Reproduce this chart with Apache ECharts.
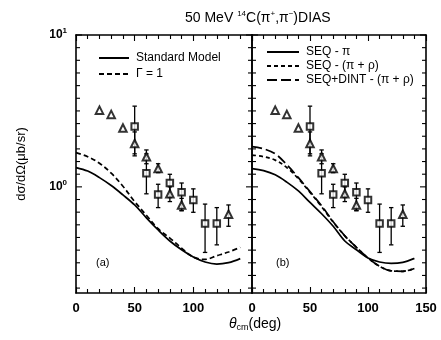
<!DOCTYPE html>
<html><head><meta charset="utf-8">
<script src="https://cdn.jsdelivr.net/npm/echarts@6/dist/echarts.min.js"></script>
<style>html,body{margin:0;padding:0;background:#fff}#c{width:441px;height:340px}</style>
</head><body><div id="c"></div>
<script>
// ---- data ----
const curveAngles = [0,10,20,30,40,50,60,70,80,90,100,110,120,130,140];
const standardModel = [1.34,1.27,1.15,1.02,0.885,0.76,0.625,0.52,0.44,0.385,0.345,0.32,0.31,0.317,0.337];
const gammaOne      = [1.68,1.58,1.43,1.23,1.01,0.80,0.65,0.53,0.46,0.395,0.345,0.333,0.352,0.372,0.40];
const seqPi         = [1.32,1.28,1.20,1.075,0.94,0.79,0.665,0.55,0.44,0.385,0.34,0.32,0.313,0.318,0.338];
const seqPiRho      = [1.62,1.58,1.50,1.34,1.13,0.92,0.74,0.585,0.476,0.40,0.34,0.30,0.28,0.278,0.29];
const seqDintPiRho  = [1.84,1.78,1.65,1.40,1.15,0.93,0.75,0.59,0.476,0.40,0.34,0.30,0.28,0.278,0.29];

const squareAngles = [50,60,70,80,90,100,110,120];
const squareValues = [2.5,1.23,0.89,1.06,0.92,0.82,0.573,0.573];
const squareLow    = [1.6,0.9,0.73,0.85,0.695,0.68,0.37,0.415];
const squareHigh   = [3.4,1.65,1.04,1.21,1.06,0.97,0.77,0.73];

const triAngles = [20,30,40,50,60,70,80,90,130];
const triValues = [3.2,3.0,2.44,1.93,1.58,1.32,0.90,0.76,0.66];
const triLow    = [null,null,null,1.65,1.42,1.24,0.80,0.70,0.55];
const triHigh   = [null,null,null,2.3,1.75,1.42,1.0,0.84,0.76];

const xTickLabelsA = ['0','50','100'];
const xTickLabelsB = ['0','50','100','150'];
const yTickExponents = [-8,-7,-6,-5,-4,-3,-2,-1,0,1,2,3,4,5,6,7,8,9,10,11,12]; // in twelfths of a decade

// ---- helpers ----
const zip = (xs, ys) => xs.map((x, i) => [x, ys[i]]);
const errData = (xs, lo, hi) => xs.map((x, i) => [x, lo[i], hi[i]]).filter(d => d[1] != null);
const yTicks = yTickExponents.map(k => [0, Math.pow(10, k / 12), k % 12 === 0 ? 1 : 0]);
const FONT = 'Liberation Sans';

function errRender(params, api) {
  const x = api.value(0), lo = api.value(1), hi = api.value(2);
  const t = api.coord([x, hi]), b = api.coord([x, lo]);
  const w = 2.2, st = {stroke: '#000', lineWidth: 1.3};
  return {type: 'group', children: [
    {type: 'line', shape: {x1: t[0], y1: t[1], x2: b[0], y2: b[1]}, style: st},
    {type: 'line', shape: {x1: t[0]-w, y1: t[1], x2: t[0]+w, y2: t[1]}, style: st},
    {type: 'line', shape: {x1: b[0]-w, y1: b[1], x2: b[0]+w, y2: b[1]}, style: st}
  ]};
}
function tickRender(params, api) {
  const v = api.value(1), major = api.value(2);
  const l = api.coord([0, v]), r = api.coord([150, v]);
  const len = major ? 6 : 4, st = {stroke: '#000', lineWidth: 1.1};
  return {type: 'group', children: [
    {type: 'line', shape: {x1: l[0], y1: l[1], x2: l[0]+len, y2: l[1]}, style: st},
    {type: 'line', shape: {x1: r[0], y1: r[1], x2: r[0]-len, y2: r[1]}, style: st}
  ]};
}

const grids = [
  {left: 76, top: 35, width: 176, height: 258},
  {left: 252, top: 35, width: 174, height: 258}
];
const axisLine = {show: true, onZero: false, lineStyle: {color: '#000', width: 1.6}};
function xAxes(gi, labels) {
  return [
    {type: 'value', gridIndex: gi, position: 'bottom', min: 0, max: 150, interval: 50,
     axisLine, splitLine: {show: false},
     axisTick: {show: true, inside: true, length: 6, lineStyle: {color: '#000', width: 1.1}},
     minorTick: {show: true, splitNumber: 5, length: 4, lineStyle: {color: '#000', width: 1.1}},
     axisLabel: {show: true, margin: 9, fontFamily: FONT, fontSize: 13, fontWeight: 'bold', color: '#000',
       formatter: v => labels.indexOf(String(v)) >= 0 ? String(v) : ''}},
    {type: 'value', gridIndex: gi, position: 'top', min: 0, max: 150, interval: 50,
     axisLine, splitLine: {show: false},
     axisTick: {show: true, inside: true, length: 6, lineStyle: {color: '#000', width: 1.1}},
     minorTick: {show: true, splitNumber: 5, length: 4, lineStyle: {color: '#000', width: 1.1}},
     axisLabel: {show: false}}
  ];
}
function yAxes(gi, withLabels) {
  return [
    {type: 'log', logBase: 10, gridIndex: gi, position: 'left', min: 0.2, max: 10,
     axisLine, splitLine: {show: false}, axisTick: {show: false},
     name: withLabels ? 'dσ/dΩ(μb/sr)' : '', nameLocation: 'middle', nameGap: 48, nameRotate: 90,
     nameTextStyle: {fontFamily: FONT, fontSize: 13, color: '#000'},
     axisLabel: {show: withLabels, margin: 9, showMinLabel: false,
       formatter: v => Math.abs(v - 1) < 1e-9 ? '{b|10}{s|0}' : (Math.abs(v - 10) < 1e-9 ? '{b|10}{s|1}' : ''),
       rich: {b: {fontFamily: FONT, fontSize: 12, fontWeight: 'bold', color: '#000'},
              s: {fontFamily: FONT, fontSize: 8, fontWeight: 'bold', color: '#000', padding: [0, 0, 8, 0]}}}},
    {type: 'log', logBase: 10, gridIndex: gi, position: 'right', min: 0.2, max: 10,
     axisLine, splitLine: {show: false}, axisTick: {show: false}, axisLabel: {show: false}}
  ];
}

const lineBase = (name, data, xi, yi, type, width) => ({
  type: 'line', name, data, xAxisIndex: xi, yAxisIndex: yi, symbol: 'none', showSymbol: false,
  smooth: 0.35, z: 3, silent: true,
  lineStyle: {color: '#000', width: width || 1.7, type: type || 'solid'},
  itemStyle: {color: '#000'}
});
function panelPoints(xi, yi) {
  return [
    {type: 'custom', xAxisIndex: xi, yAxisIndex: yi, renderItem: tickRender, data: yTicks, z: 2, silent: true,
     encode: {x: 0, y: 1}},
    {type: 'custom', xAxisIndex: xi, yAxisIndex: yi, renderItem: errRender, z: 4, silent: true,
     data: errData(squareAngles, squareLow, squareHigh), encode: {x: 0, y: [1, 2]}},
    {type: 'custom', xAxisIndex: xi, yAxisIndex: yi, renderItem: errRender, z: 4, silent: true,
     data: errData(triAngles, triLow, triHigh), encode: {x: 0, y: [1, 2]}},
    {type: 'scatter', xAxisIndex: xi, yAxisIndex: yi, data: zip(squareAngles, squareValues), z: 5,
     symbol: 'emptyRect', symbolSize: 6.5, silent: true, itemStyle: {color: '#000', borderWidth: 1.3}},
    {type: 'scatter', xAxisIndex: xi, yAxisIndex: yi, data: zip(triAngles, triValues), z: 5,
     symbol: 'emptyTriangle', symbolSize: 7.5, silent: true, itemStyle: {color: '#000', borderWidth: 1.3}}
  ];
}

const option = {
  animation: false,
  backgroundColor: '#fff',
  textStyle: {fontFamily: FONT},
  grid: grids,
  xAxis: [...xAxes(0, xTickLabelsA), ...xAxes(1, xTickLabelsB)],
  yAxis: [...yAxes(0, true), ...yAxes(1, false)],
  title: [
    {text: '{n|50 MeV }{s|14}{n|C(π}{s|+}{n|,π}{s|−}{n|)DIAS}', left: 180, top: 5,
     textStyle: {fontWeight: 'normal', rich: {
       n: {fontFamily: FONT, fontSize: 14, fontWeight: 'normal', color: '#000'},
       s: {fontFamily: FONT, fontSize: 8, fontWeight: 'normal', color: '#000', padding: [0, 0, 8, 0]}}}},
    {text: '{t|θ}{c|cm}{n|(deg)}', left: 224, top: 311,
     textStyle: {fontWeight: 'normal', rich: {
       t: {fontFamily: FONT, fontSize: 14, fontStyle: 'italic', fontWeight: 'normal', color: '#000'},
       c: {fontFamily: FONT, fontSize: 9, fontWeight: 'normal', color: '#000', padding: [7, 0, 0, 0]},
       n: {fontFamily: FONT, fontSize: 14, fontWeight: 'normal', color: '#000'}}}},
    {text: '(a)', left: 91, top: 252, textStyle: {fontFamily: FONT, fontSize: 11, fontWeight: 'normal', color: '#000'}},
    {text: '(b)', left: 271, top: 252, textStyle: {fontFamily: FONT, fontSize: 11, fontWeight: 'normal', color: '#000'}}
  ],
  legend: [
    {data: ['Standard Model', 'Γ = 1'], orient: 'vertical', left: 98, top: 52, itemWidth: 30, itemHeight: 10,
     itemGap: 4, padding: 0, selectedMode: false, itemStyle: {opacity: 0},
     textStyle: {fontFamily: FONT, fontSize: 12, color: '#000', padding: [0, 0, 0, 2]}},
    {data: ['SEQ - π', 'SEQ - (π + ρ)', 'SEQ+DINT - (π + ρ)'], orient: 'vertical', left: 266, top: 46,
     itemWidth: 32, itemHeight: 8, itemGap: 2, padding: 0, selectedMode: false, itemStyle: {opacity: 0},
     textStyle: {fontFamily: FONT, fontSize: 12, lineHeight: 12, color: '#000', padding: [0, 0, 0, 2]}}
  ],
  series: [
    lineBase('Standard Model', zip(curveAngles, standardModel), 0, 0, 'solid'),
    lineBase('Γ = 1', zip(curveAngles, gammaOne), 0, 0, [5, 3]),
    ...panelPoints(0, 0),
    lineBase('SEQ - π', zip(curveAngles, seqPi), 2, 2, 'solid'),
    lineBase('SEQ - (π + ρ)', zip(curveAngles, seqPiRho), 2, 2, [4, 3]),
    lineBase('SEQ+DINT - (π + ρ)', zip(curveAngles, seqDintPiRho), 2, 2, [10, 4]),
    ...panelPoints(2, 2)
  ]
};
const chart = echarts.init(document.getElementById('c'), null, {renderer: 'canvas'});
chart.setOption(option);
</script></body></html>
